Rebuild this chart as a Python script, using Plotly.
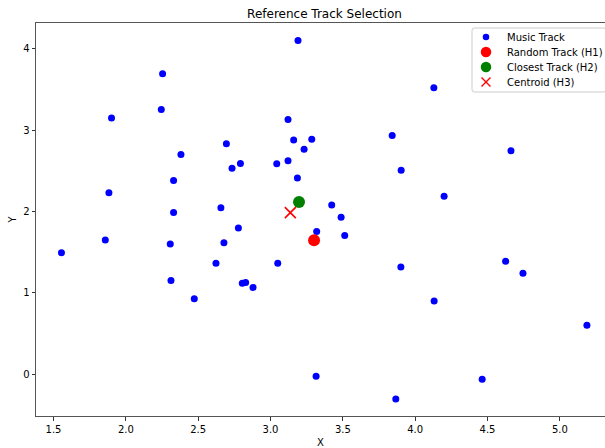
import plotly.graph_objects as go

# Music tracks (blue)
track_x = [2.254, 2.245, 1.901, 2.695, 2.381, 2.734, 2.330, 1.883, 2.657, 2.330,
           3.190, 4.129, 3.121, 3.841, 3.160, 3.285, 3.232, 2.792, 3.043, 3.121,
           3.903, 3.186, 3.423, 3.488, 4.662, 4.200, 1.555, 1.858, 2.307, 2.678,
           2.623, 2.312, 2.473, 2.778, 3.319, 3.513, 3.050, 3.901, 2.805, 2.828,
           2.879, 4.131, 3.315, 3.866, 4.625, 4.745, 5.187, 4.463]
track_y = [3.692, 3.253, 3.147, 2.830, 2.698, 2.531, 2.378, 2.230, 2.046, 1.985,
           4.102, 3.520, 3.129, 2.932, 2.879, 2.888, 2.765, 2.588, 2.584, 2.621,
           2.506, 2.411, 2.079, 1.928, 2.744, 2.186, 1.491, 1.647, 1.598, 1.614,
           1.361, 1.151, 0.925, 1.795, 1.751, 1.703, 1.361, 1.315, 1.116, 1.124,
           1.065, 0.899, -0.027, -0.306, 1.386, 1.239, 0.601, -0.064]

random_x = [3.301]
random_y = [1.644]
closest_x = [3.197]
closest_y = [2.116]
centroid_x = [3.137]
centroid_y = [1.985]

x_ticks = [1.5, 2.0, 2.5, 3.0, 3.5, 4.0, 4.5, 5.0]
x_tick_labels = ["1.5", "2.0", "2.5", "3.0", "3.5", "4.0", "4.5", "5.0"]
y_ticks = [0, 1, 2, 3, 4]

legend_names = ["Music Track", "Random Track (H1)", "Closest Track (H2)", "Centroid (H3)"]

FONT = "DejaVu Sans"
L, R, T, B = 36, 605, 23, 416  # plot area in pixels

fig = go.Figure()
fig.add_trace(go.Scatter(x=track_x, y=track_y, mode="markers", name=legend_names[0],
                         marker=dict(color="blue", size=7), showlegend=False))
fig.add_trace(go.Scatter(x=random_x, y=random_y, mode="markers", name=legend_names[1],
                         marker=dict(color="red", size=12), showlegend=False))
fig.add_trace(go.Scatter(x=closest_x, y=closest_y, mode="markers", name=legend_names[2],
                         marker=dict(color="green", size=12), showlegend=False))
fig.add_trace(go.Scatter(x=centroid_x, y=centroid_y, mode="markers", name=legend_names[3],
                         marker=dict(color="red", size=11, symbol="x-thin",
                                     line=dict(color="red", width=1.6)), showlegend=False))

# ---- legend drawn in a pixel-space overlay ----
lx0, lx1, ly0, ly1, rad = 472, 606, 28, 92, 2.5
path = (f"M {lx0+rad},{ly0} L {lx1-rad},{ly0} Q {lx1},{ly0} {lx1},{ly0+rad} "
        f"L {lx1},{ly1-rad} Q {lx1},{ly1} {lx1-rad},{ly1} L {lx0+rad},{ly1} "
        f"Q {lx0},{ly1} {lx0},{ly1-rad} L {lx0},{ly0+rad} Q {lx0},{ly0} {lx0+rad},{ly0} Z")
fig.add_shape(type="path", path=path, xref="x2", yref="y2",
              line=dict(color="#cccccc", width=1), fillcolor="white",
              layer="below")
row_y = [37, 52, 67, 82]
sym_x = 486
text_x = 505
styles = [
    dict(color="blue", size=6.5),
    dict(color="red", size=10.5),
    dict(color="green", size=10.5),
    dict(color="red", size=9, symbol="x-thin", line=dict(color="red", width=1.4)),
]
for name, yy, st in zip(legend_names, row_y, styles):
    fig.add_trace(go.Scatter(x=[sym_x], y=[yy], mode="markers", marker=st,
                             xaxis="x2", yaxis="y2", showlegend=False, hoverinfo="skip"))
    fig.add_annotation(x=text_x, y=yy, xref="x2", yref="y2", text=name, showarrow=False,
                       xanchor="left", yanchor="middle", font=dict(size=10, family=FONT))

fig.update_layout(
    width=605, height=448,
    margin=dict(l=L, r=605 - R, t=T, b=448 - B),
    paper_bgcolor="white", plot_bgcolor="white",
    font=dict(family=FONT, size=10, color="black"),
    title=dict(text="Reference Track Selection", x=324.5 / 605, xanchor="center",
               y=1 - 14 / 448, yanchor="middle", font=dict(size=12)),
    showlegend=False,
    xaxis2=dict(overlaying="x", range=[L, R], visible=False, fixedrange=True),
    yaxis2=dict(overlaying="y", range=[B, T], visible=False, fixedrange=True),
)
fig.layout.xaxis.update(range=[1.379, 5.312], tickvals=x_ticks, ticktext=x_tick_labels,
                        showgrid=False, zeroline=False, showline=True, linecolor="#555555",
                        linewidth=1, mirror=True, ticks="outside", ticklen=3.5,
                        tickcolor="#333333", title=dict(text="X", standoff=7, font=dict(size=10)))
fig.layout.yaxis.update(range=[-0.516, 4.316], tickvals=y_ticks,
                        showgrid=False, zeroline=False, showline=True, linecolor="#555555",
                        linewidth=1, mirror=False, ticks="outside", ticklen=3.5,
                        tickcolor="#333333", title=dict(text="Y", standoff=4, font=dict(size=10)))

fig.write_html("out.html", config={"displayModeBar": False},
               post_script="document.body.style.margin='0';document.body.style.overflow='hidden';")
